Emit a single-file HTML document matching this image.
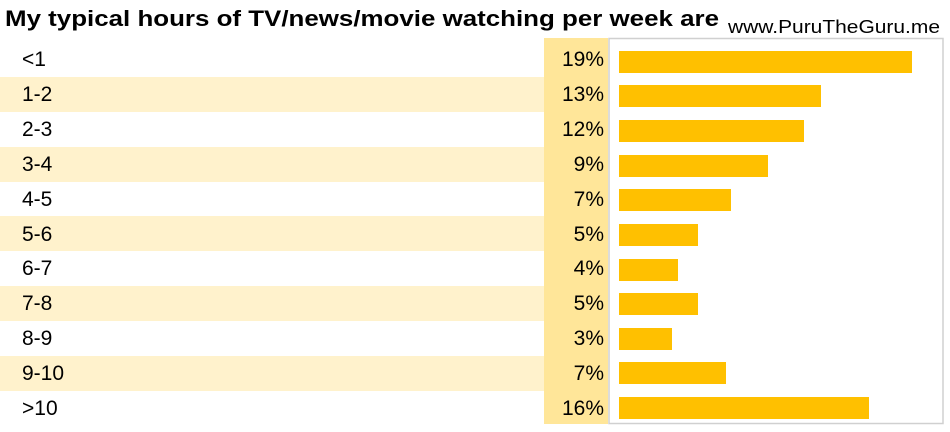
<!DOCTYPE html>
<html><head><style>
html,body{margin:0;padding:0;background:#fff;}
svg{display:block;font-family:"Liberation Sans",sans-serif;}
</style></head><body>
<svg width="950" height="432" xmlns="http://www.w3.org/2000/svg">
<rect width="950" height="432" fill="#fff"/>
<g fill="#fff2cc">
<rect x="0" y="77" width="544" height="35"/>
<rect x="0" y="147" width="544" height="35"/>
<rect x="0" y="216" width="544" height="35"/>
<rect x="0" y="286" width="544" height="35"/>
<rect x="0" y="356" width="544" height="35"/>
</g>
<rect x="544" y="38" width="64" height="386" fill="#ffe699"/>
<rect x="609" y="38.5" width="334" height="385" fill="#fff" stroke="#d0d0d0" stroke-width="1.5"/>
<text x="5" y="26" font-size="22" font-weight="bold" fill="#000" textLength="714" lengthAdjust="spacingAndGlyphs">My typical hours of TV/news/movie watching per week are</text>
<text x="940" y="33" font-size="18" fill="#000" text-anchor="end" textLength="212" lengthAdjust="spacingAndGlyphs">www.PuruTheGuru.me</text>
<g font-size="21" fill="#000">
<text x="22" y="66">&lt;1</text>
<text x="22" y="101">1-2</text>
<text x="22" y="136">2-3</text>
<text x="22" y="171">3-4</text>
<text x="22" y="206">4-5</text>
<text x="22" y="241">5-6</text>
<text x="22" y="275">6-7</text>
<text x="22" y="310">7-8</text>
<text x="22" y="345">8-9</text>
<text x="22" y="380">9-10</text>
<text x="22" y="415">&gt;10</text>
</g>
<g font-size="21" fill="#000" text-anchor="end">
<text x="604" y="66">19%</text>
<text x="604" y="101">13%</text>
<text x="604" y="136">12%</text>
<text x="604" y="171">9%</text>
<text x="604" y="206">7%</text>
<text x="604" y="241">5%</text>
<text x="604" y="275">4%</text>
<text x="604" y="310">5%</text>
<text x="604" y="345">3%</text>
<text x="604" y="380">7%</text>
<text x="604" y="415">16%</text>
</g>
<g fill="#ffc000">
<rect x="619" y="51" width="293" height="22"/>
<rect x="619" y="85" width="202" height="22"/>
<rect x="619" y="120" width="185" height="22"/>
<rect x="619" y="155" width="149" height="22"/>
<rect x="619" y="189" width="112" height="22"/>
<rect x="619" y="224" width="79" height="22"/>
<rect x="619" y="259" width="59" height="22"/>
<rect x="619" y="293" width="79" height="22"/>
<rect x="619" y="328" width="53" height="22"/>
<rect x="619" y="362" width="107" height="22"/>
<rect x="619" y="397" width="250" height="22"/>
</g>
</svg>
</body></html>
